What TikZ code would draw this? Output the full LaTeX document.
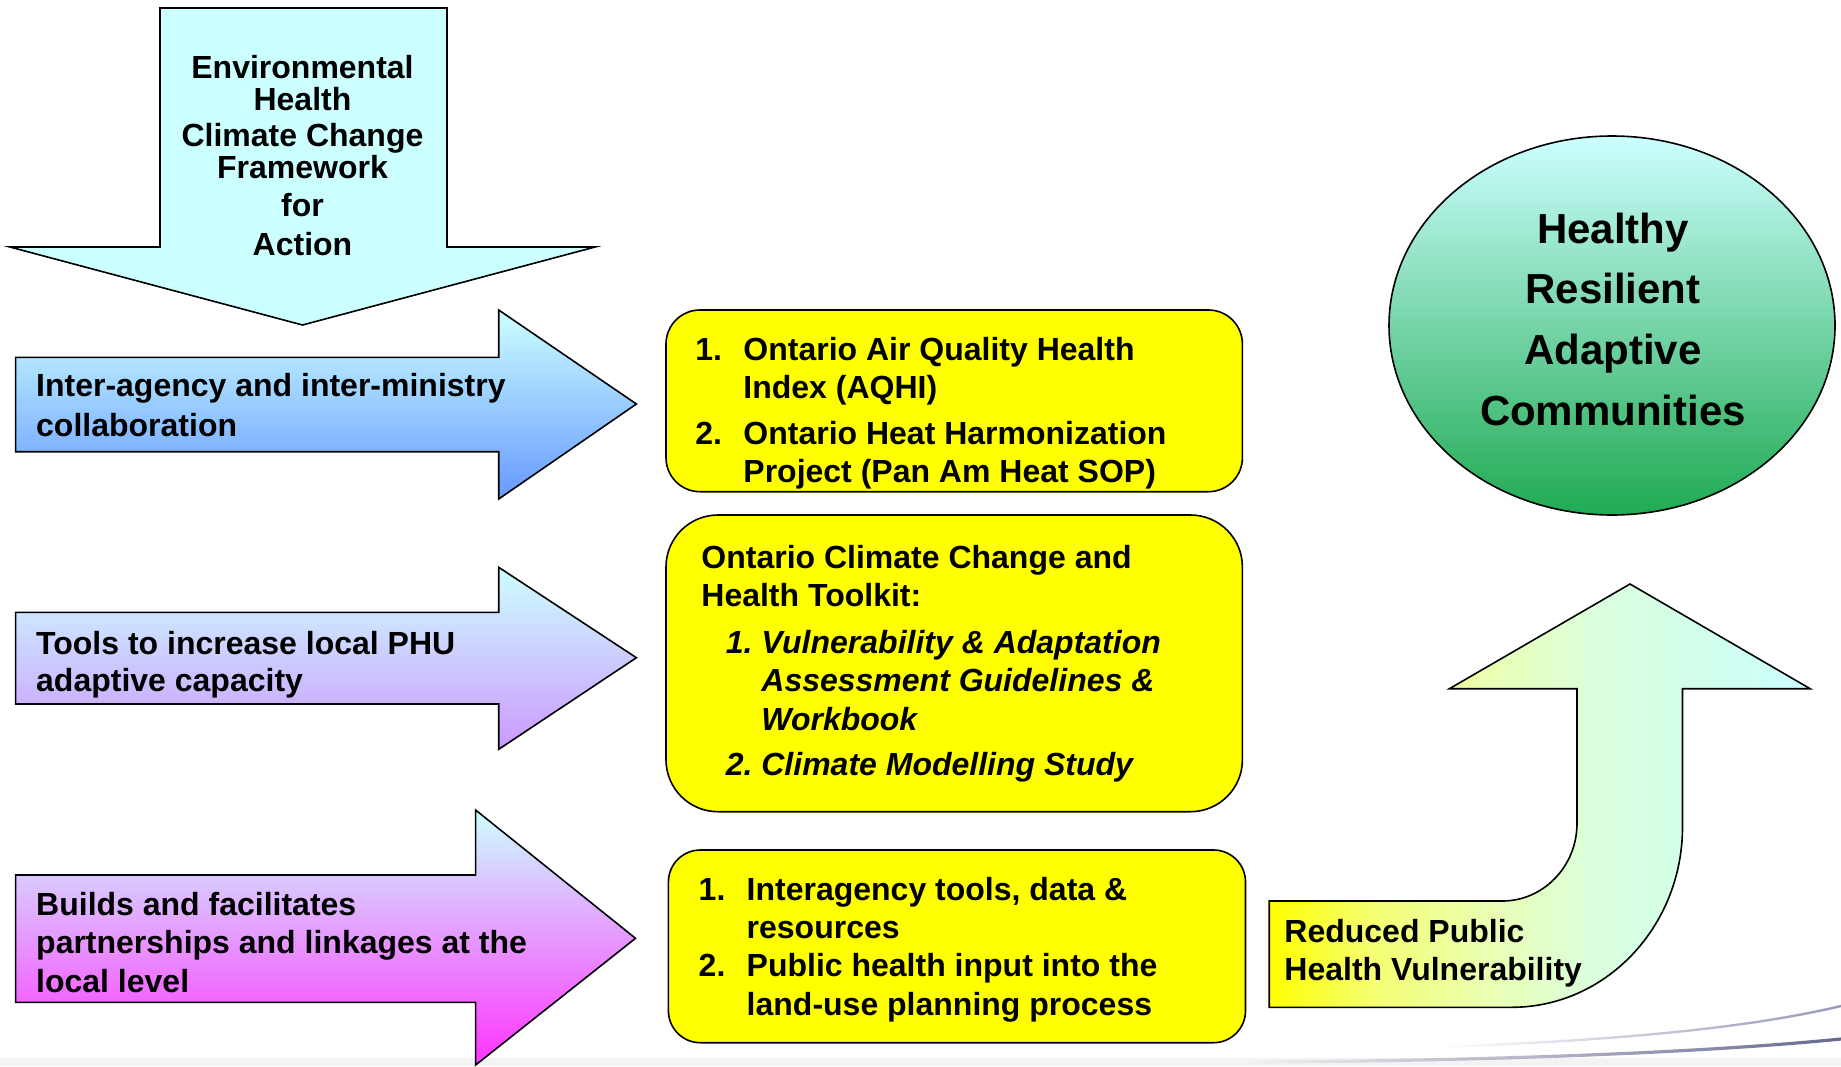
\documentclass[tikz,border=0pt]{standalone}
\usepackage{fontspec}
\setmainfont{Liberation Sans}
\usetikzlibrary{fadings,shapes.geometric}
\definecolor{cyanl}{HTML}{CCFFFF}
\definecolor{blueb}{HTML}{6699FF}
\definecolor{lilac}{HTML}{CC99FF}
\definecolor{magb}{HTML}{FF33FF}
\definecolor{greenb}{HTML}{20AA52}
\definecolor{ylw}{HTML}{FFFF00}
\definecolor{upA}{HTML}{F5FF70}
\definecolor{upB}{HTML}{EAFFB0}
\definecolor{upC}{HTML}{DAFFDC}
\definecolor{upD}{HTML}{D1FFEC}
\definecolor{swA}{HTML}{7A7EA8}
\definecolor{swB}{HTML}{3F4272}
\definecolor{band}{HTML}{F3F3F3}
\pgfdeclarehorizontalshading{upgrad}{100bp}{color(0bp)=(ylw); color(25bp)=(ylw); color(34.4bp)=(upA); color(44.7bp)=(upB); color(55bp)=(upC); color(65.2bp)=(upD); color(75bp)=(cyanl); color(100bp)=(cyanl)}
\tikzfading[name=swfade, left color=transparent!100, middle color=transparent!0, right color=transparent!20]
\begin{document}
\begin{tikzpicture}[x=0.5pt,y=-0.5pt,
  outl/.style={draw=black, line width=0.8pt, line join=miter},
  txt/.style={inner sep=0pt, anchor=base west, align=left, font=\bfseries\fontsize{16}{19.2}\selectfont},
  ybox/.style={fill=ylw, draw=black, line width=0.8pt}]
\useasboundingbox (0,0) rectangle (1841,1066);
% background band and swooshes
\fill[band] (0,1058) rectangle (1841,1066);
\draw[swA, line width=1.2pt, path fading=swfade] (1440,1047) .. controls (1600,1041) and (1740,1030) .. (1841,1006);
\draw[swB, line width=1.6pt, path fading=swfade] (1250,1062) .. controls (1480,1061) and (1700,1053) .. (1841,1039);

% top down arrow
\filldraw[fill=cyanl, outl] (160,8) -- (447,8) -- (447,247) -- (595,247) -- (302.5,325) -- (10,247) -- (160,247) -- cycle;
\node[txt, anchor=base, align=center, font=\bfseries\fontsize{16}{15.85}\selectfont] (fw) at (302.5,255)
  {Environmental\\Health\\[2.5pt]Climate Change\\Framework\\[3.3pt]for\\[3.3pt]Action};

% left arrows
\shadedraw[top color=cyanl, bottom color=blueb, outl] (15.6,357.3) -- (498.7,357.3) -- (498.7,310) -- (636.4,404) -- (498.7,499) -- (498.7,451.7) -- (15.6,451.7) -- cycle;
\node[txt, font=\bfseries\fontsize{16}{20}\selectfont] (a1) at (35.8,436.7) {Inter-agency and inter-ministry\\collaboration};

\shadedraw[top color=cyanl, bottom color=lilac, outl] (15.6,612.3) -- (498.7,612.3) -- (498.7,567.3) -- (636.4,657.7) -- (498.7,749.3) -- (498.7,704) -- (15.6,704) -- cycle;
\node[txt, font=\bfseries\fontsize{16}{18.4}\selectfont] (a2) at (35.8,691.7) {Tools to increase local PHU\\adaptive capacity};

\shadedraw[top color=cyanl, bottom color=magb, outl] (15.6,875) -- (475.6,875) -- (475.6,810) -- (635.5,938.3) -- (475.6,1065) -- (475.6,1002.3) -- (15.6,1002.3) -- cycle;
\node[txt, font=\bfseries\fontsize{16}{19.4}\selectfont] (a3) at (35.8,992.7) {Builds and facilitates\\partnerships and linkages at the\\local level};

% yellow boxes
\draw[ybox, rounded corners=17pt] (666,310) rectangle (1242.4,491.7);
\node[txt] (b1) at (695,482.7)
  {\makebox[24pt][l]{1.}Ontario Air Quality Health\\\hspace*{24pt}Index (AQHI)\\[3.7pt]\makebox[24pt][l]{2.}Ontario Heat Harmonization\\\hspace*{24pt}Project (Pan Am Heat SOP)};

\draw[ybox, rounded corners=26pt] (666,515) rectangle (1242.4,811.7);
\node[txt] (b2) at (701,775)
  {Ontario Climate Change and\\Health Toolkit:\\[4.1pt]
   \hspace*{12.2pt}\makebox[17.8pt][l]{\itshape 1.}{\itshape Vulnerability \& Adaptation}\\
   \hspace*{30pt}{\itshape Assessment Guidelines \&}\\
   \hspace*{30pt}{\itshape Workbook}\\[3.3pt]
   \hspace*{12.2pt}\makebox[17.8pt][l]{\itshape 2.}{\itshape Climate Modelling Study}};

\draw[ybox, rounded corners=16pt] (668.4,850) rectangle (1245.5,1042.7);
\node[txt, font=\bfseries\fontsize{16}{19.1}\selectfont] (b3) at (698.3,1015)
  {\makebox[24pt][l]{1.}Interagency tools, data \&\\\hspace*{24pt}resources\\\makebox[24pt][l]{2.}Public health input into the\\\hspace*{24pt}land-use planning process};

% goal ellipse
\node[ellipse, draw=black, line width=0.8pt, minimum width=223pt, minimum height=189.5pt, inner sep=0pt, top color=cyanl, bottom color=greenb] (goal) at (1612,325.5) {};
\node[txt, anchor=base, align=center, font=\bfseries\fontsize{21}{30.3}\selectfont] (goaltxt) at (1613,425) {Healthy\\Resilient\\Adaptive\\Communities};

% up arrow
\path[shading=upgrad, draw=black, line width=0.8pt] (1269.2,901) -- (1502.3,901) .. controls (1543.5,901) and (1577,866.2) .. (1577,823.3) -- (1577,688.7) -- (1449.4,688.7) -- (1630,584) -- (1810.1,688.7) -- (1682.5,688.7) -- (1682.5,826.7) .. controls (1682.5,926.4) and (1606,1007.3) .. (1511.6,1007.3) -- (1269.2,1007.3) -- cycle;
\node[txt, font=\bfseries\fontsize{16}{18.85}\selectfont] (red) at (1284,980) {Reduced Public\\Health Vulnerability};
\end{tikzpicture}
\end{document}
